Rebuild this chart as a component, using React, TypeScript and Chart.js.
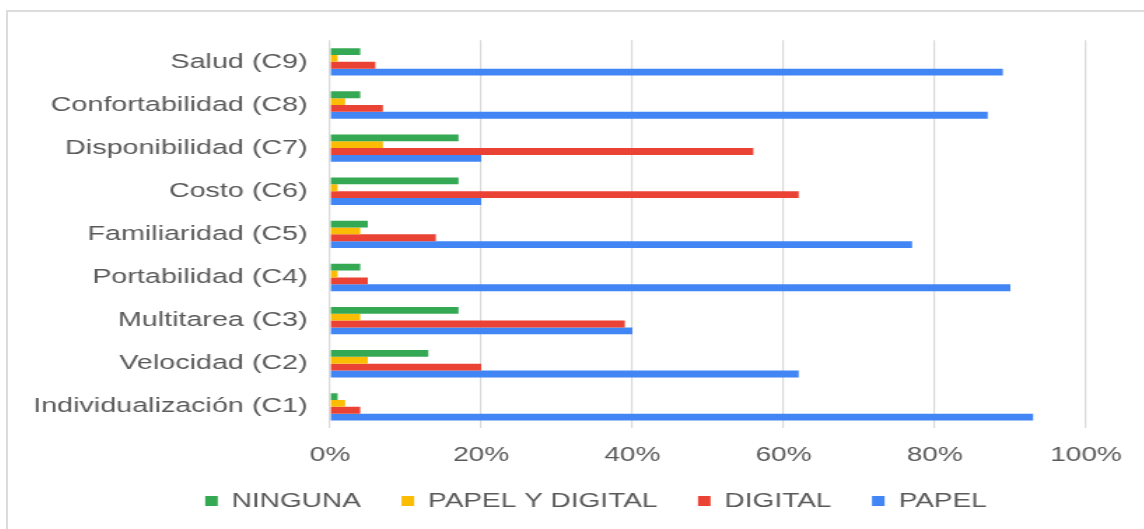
import React, { useEffect, useRef } from "react";
import { Chart, registerables } from "chart.js";

Chart.register(...registerables);

const categories = [
  "Salud (C9)",
  "Confortabilidad (C8)",
  "Disponibilidad (C7)",
  "Costo (C6)",
  "Familiaridad (C5)",
  "Portabilidad (C4)",
  "Multitarea (C3)",
  "Velocidad (C2)",
  "Individualización (C1)",
];
const ninguna = [4, 4, 17, 17, 5, 4, 17, 13, 1];
const papelYDigital = [1, 2, 7, 1, 4, 1, 4, 5, 2];
const digital = [6, 7, 56, 62, 14, 5, 39, 20, 4];
const papel = [89, 87, 20, 20, 77, 90, 40, 62, 93];
const seriesNames = ["NINGUNA", "PAPEL Y DIGITAL", "DIGITAL", "PAPEL"];
const seriesColors = ["#34a853", "#fbbc04", "#ea4335", "#4285f4"];
const xTicks = [0, 20, 40, 60, 80, 100];

const STRETCH = 1.4;
const W = 811;
const H = 517;
const FONT = "'Liberation Sans', Arial, sans-serif";
const TEXT = "#5a5a5a";

// let the category labels extend past the left layout padding without clipping
const widenYLabelArea = {
  id: "widenYLabelArea",
  afterLayout(chart: any) {
    const y = chart.scales.y;
    if (y) y.left = 0;
  },
};

export default function App() {
  const ref = useRef<HTMLCanvasElement | null>(null);

  useEffect(() => {
    if (!ref.current) return;
    const values = [ninguna, papelYDigital, digital, papel];
    const chart = new Chart(ref.current, {
      type: "bar",
      data: {
        labels: categories,
        datasets: values.map((v, i) => ({
          label: seriesNames[i],
          data: v,
          backgroundColor: seriesColors[i],
          borderWidth: 0,
          barPercentage: 1,
          categoryPercentage: 0.636,
        })),
      },
      options: {
        indexAxis: "y",
        responsive: false,
        animation: false,
        layout: { padding: { left: 70, right: 41, top: 25, bottom: 8 } },
        plugins: {
          tooltip: { enabled: false },
          legend: {
            position: "bottom",
            labels: {
              boxWidth: 9,
              boxHeight: 10,
              padding: 29,
              color: TEXT,
              font: { family: FONT, size: 20 },
            },
          },
        },
        scales: {
          x: {
            min: 0,
            max: 100,
            afterBuildTicks: (s: any) => {
              s.ticks = xTicks.map((v) => ({ value: v }));
            },
            afterFit: (s: any) => {
              s.height = 33.6;
            },
            grid: { color: "#d9d9d9", lineWidth: 1.2, drawTicks: false },
            border: { display: false },
            ticks: {
              padding: 15,
              color: TEXT,
              font: { family: FONT, size: 20 },
              callback: (v: any) => v + "%",
            },
          },
          y: {
            afterFit: (s: any) => {
              s.width = 160;
            },
            grid: { display: false, drawTicks: false },
            border: { display: false },
            ticks: {
              padding: 16,
              color: TEXT,
              font: { family: FONT, size: 20.5 },
            },
          },
        },
      },
      plugins: [widenYLabelArea],
    });
    return () => chart.destroy();
  }, []);

  return (
    <div
      style={{
        position: "absolute",
        left: 6,
        top: 10,
        width: 1138,
        height: 519,
        boxSizing: "border-box",
        borderTop: "2px solid #dcdcdc",
        borderLeft: "2px solid #dcdcdc",
        overflow: "hidden",
        background: "#fff",
      }}
    >
      <canvas
        ref={ref}
        width={W}
        height={H}
        style={{
          position: "absolute",
          left: 0,
          top: 0,
          width: W + "px",
          height: H + "px",
          transform: `scaleX(${STRETCH})`,
          transformOrigin: "0 0",
        }}
      />
    </div>
  );
}
